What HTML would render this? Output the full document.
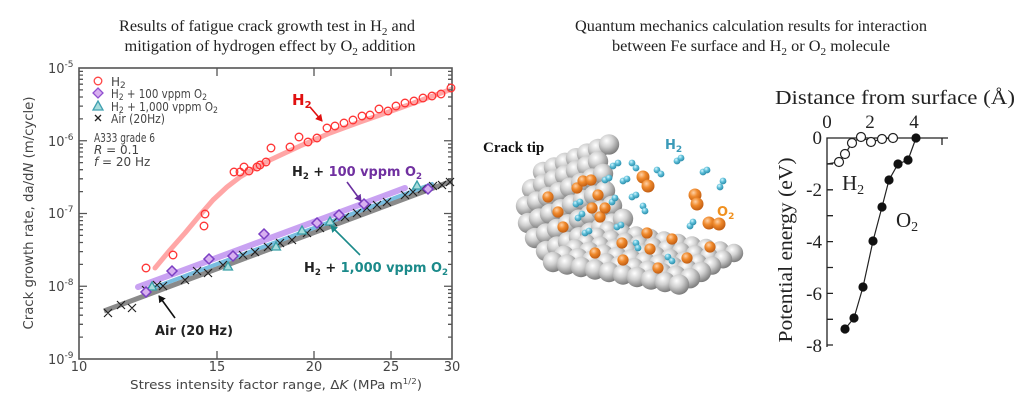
<!DOCTYPE html>
<html><head><meta charset="utf-8"><style>
html,body{margin:0;padding:0;background:#fff;}
svg{display:block;}
</style></head><body>
<svg width="1024" height="403" viewBox="0 0 1024 403" xmlns="http://www.w3.org/2000/svg">
<defs>
<radialGradient id="gg" cx="38%" cy="32%" r="70%"><stop offset="0" stop-color="#ffffff"/><stop offset="0.45" stop-color="#d0d0d0"/><stop offset="1" stop-color="#7a7a7a"/></radialGradient>
<radialGradient id="og" cx="38%" cy="32%" r="70%"><stop offset="0" stop-color="#ffd2a8"/><stop offset="0.45" stop-color="#f08a2c"/><stop offset="1" stop-color="#c05c12"/></radialGradient>
<radialGradient id="bg" cx="38%" cy="32%" r="70%"><stop offset="0" stop-color="#d8f6ff"/><stop offset="0.45" stop-color="#5ec0da"/><stop offset="1" stop-color="#2a8aa8"/></radialGradient>
<circle id="s" r="10.2" fill="url(#gg)"/>
<circle id="sf" r="9.2" fill="url(#gg)"/>
<circle id="o" r="6.5" fill="url(#og)"/>
<circle id="os" r="5.6" fill="url(#og)"/>
<circle id="b" r="3.4" fill="url(#bg)"/>
<marker id="ar" markerWidth="8" markerHeight="8" refX="6" refY="4" orient="auto" markerUnits="userSpaceOnUse"><path d="M0,0 L7,4 L0,8 Z" fill="#e01010"/></marker>
<marker id="ap" markerWidth="8" markerHeight="8" refX="6" refY="4" orient="auto" markerUnits="userSpaceOnUse"><path d="M0,0 L7,4 L0,8 Z" fill="#6a2fa0"/></marker>
<marker id="at" markerWidth="8" markerHeight="8" refX="6" refY="4" orient="auto" markerUnits="userSpaceOnUse"><path d="M0,0 L7,4 L0,8 Z" fill="#1b8a8a"/></marker>
<marker id="ak" markerWidth="8" markerHeight="8" refX="6" refY="4" orient="auto" markerUnits="userSpaceOnUse"><path d="M0,0 L7,4 L0,8 Z" fill="#111"/></marker>
</defs>

<!-- ===== LEFT CHART ===== -->
<g font-family="'Liberation Serif', serif" font-size="16" fill="#222" text-anchor="middle">
<text x="267" y="31" textLength="296" lengthAdjust="spacingAndGlyphs">Results of fatigue crack growth test in H<tspan font-size="11" dy="4">2</tspan><tspan dy="-4"> and</tspan></text>
<text x="270" y="51" textLength="291" lengthAdjust="spacingAndGlyphs">mitigation of hydrogen effect by O<tspan font-size="11" dy="4">2</tspan><tspan dy="-4"> addition</tspan></text>
</g>

<!-- bands -->
<polyline points="155,268 170,250 185,233 200,215 213,200 227,187 240,177 255,168 270,160 300,146 330,133 360,122 400,108 452,89" fill="none" stroke="#f88" stroke-opacity="0.75" stroke-width="5" stroke-linecap="round" stroke-linejoin="round"/>
<line x1="138" y1="287" x2="405" y2="188" stroke="#c9a2f2" stroke-width="6" stroke-linecap="round"/>
<line x1="104" y1="311" x2="452" y2="181" stroke="#8a8a8a" stroke-width="5"/>
<line x1="150" y1="289" x2="432" y2="184" stroke="#78bde0" stroke-width="4" stroke-linecap="round"/>

<!-- frame -->
<rect x="79" y="68" width="373" height="291" fill="none" stroke="#555" stroke-width="1.6"/>
<path stroke="#555" stroke-width="1.3" fill="none" d="
M79,286.25h8 M79,213.5h8 M79,140.75h8
M452,286.25h-8 M452,213.5h-8 M452,140.75h-8
M79,337.1h4 M79,324.3h4 M79,315.2h4 M79,308.1h4 M79,302.4h4 M79,297.5h4 M79,293.3h4 M79,289.6h4
M79,264.4h4 M79,251.6h4 M79,242.5h4 M79,235.4h4 M79,229.7h4 M79,224.8h4 M79,220.6h4 M79,216.9h4
M79,191.6h4 M79,178.8h4 M79,169.7h4 M79,162.6h4 M79,156.9h4 M79,152h4 M79,147.8h4 M79,144.1h4
M79,118.9h4 M79,106.1h4 M79,97h4 M79,89.9h4 M79,84.2h4 M79,79.3h4 M79,75.1h4 M79,71.4h4
M452,337.1h-4 M452,324.3h-4 M452,315.2h-4 M452,308.1h-4 M452,302.4h-4 M452,297.5h-4 M452,293.3h-4 M452,289.6h-4
M452,264.4h-4 M452,251.6h-4 M452,242.5h-4 M452,235.4h-4 M452,229.7h-4 M452,224.8h-4 M452,220.6h-4 M452,216.9h-4
M452,191.6h-4 M452,178.8h-4 M452,169.7h-4 M452,162.6h-4 M452,156.9h-4 M452,152h-4 M452,147.8h-4 M452,144.1h-4
M452,118.9h-4 M452,106.1h-4 M452,97h-4 M452,89.9h-4 M452,84.2h-4 M452,79.3h-4 M452,75.1h-4 M452,71.4h-4
M217,359v-8 M314,359v-8 M391,359v-8 M217,68v8 M314,68v8 M391,68v8"/>

<!-- tick labels -->
<g font-family="'DejaVu Sans', sans-serif" font-size="13" fill="#444">
<g text-anchor="middle">
<text x="79" y="371">10</text><text x="217" y="371">15</text><text x="314" y="371">20</text><text x="391" y="371">25</text><text x="452" y="371">30</text>
</g>
<text x="48" y="73">10<tspan font-size="9" dy="-6">-5</tspan></text>
<text x="48" y="146">10<tspan font-size="9" dy="-6">-6</tspan></text>
<text x="48" y="218">10<tspan font-size="9" dy="-6">-7</tspan></text>
<text x="48" y="291">10<tspan font-size="9" dy="-6">-8</tspan></text>
<text x="48" y="364">10<tspan font-size="9" dy="-6">-9</tspan></text>
<text x="276" y="389" text-anchor="middle" font-size="12.5" textLength="292" lengthAdjust="spacingAndGlyphs">Stress intensity factor range, Δ<tspan font-style="italic">K</tspan> (MPa m<tspan font-size="8" dy="-5">1/2</tspan><tspan dy="5">)</tspan></text>
<text transform="translate(33,213) rotate(-90)" text-anchor="middle" font-size="13" textLength="233" lengthAdjust="spacingAndGlyphs">Crack growth rate, da/d<tspan font-style="italic">N</tspan> (m/cycle)</text>
</g>

<!-- legend -->
<g font-family="'DejaVu Sans', sans-serif" font-size="12" fill="#444">
<circle cx="98" cy="81" r="3.8" fill="none" stroke="#f44" stroke-width="1.3"/>
<path d="M98,88 L103,93 L98,98 L93,93 Z" fill="#d8b0f0" stroke="#9050d0" stroke-width="1.3"/>
<path d="M98,101 L103,110 L93,110 Z" fill="#a8dcdc" stroke="#40a0b0" stroke-width="1.3"/>
<path d="M95,115 L101,121 M101,115 L95,121" stroke="#222" stroke-width="1.3"/>
<text x="111" y="86">H<tspan font-size="9" dy="2">2</tspan></text>
<text x="111" y="98" textLength="96" lengthAdjust="spacingAndGlyphs">H<tspan font-size="9" dy="2">2</tspan><tspan dy="-2"> + 100 vppm O</tspan><tspan font-size="9" dy="2">2</tspan></text>
<text x="111" y="111" textLength="107" lengthAdjust="spacingAndGlyphs">H<tspan font-size="9" dy="2">2</tspan><tspan dy="-2"> + 1,000 vppm O</tspan><tspan font-size="9" dy="2">2</tspan></text>
<text x="111" y="123" textLength="54" lengthAdjust="spacingAndGlyphs">Air (20Hz)</text>
<text x="94" y="142" textLength="61" lengthAdjust="spacingAndGlyphs">A333 grade 6</text>
<text x="94" y="154"><tspan font-style="italic">R</tspan> = 0.1</text>
<text x="94" y="166"><tspan font-style="italic">f</tspan> = 20 Hz</text>
</g>

<!-- air x markers -->
<path stroke="#222" stroke-width="1.2" fill="none" d="
M104,309l8,8m0,-8l-8,8 M117,301l8,8m0,-8l-8,8 M128,304l8,8m0,-8l-8,8 M142,286l8,8m0,-8l-8,8
M153,281l8,8m0,-8l-8,8 M159,282l8,8m0,-8l-8,8 M181,276l8,8m0,-8l-8,8 M193,267l8,8m0,-8l-8,8
M204,269l8,8m0,-8l-8,8 M219,261l8,8m0,-8l-8,8 M239,251l8,8m0,-8l-8,8 M251,248l8,8m0,-8l-8,8
M264,243l8,8m0,-8l-8,8 M276,239l8,8m0,-8l-8,8 M288,236l8,8m0,-8l-8,8 M303,229l8,8m0,-8l-8,8
M316,224l8,8m0,-8l-8,8 M329,218l8,8m0,-8l-8,8 M341,213l8,8m0,-8l-8,8 M353,209l8,8m0,-8l-8,8
M363,204l8,8m0,-8l-8,8 M373,201l8,8m0,-8l-8,8 M383,198l8,8m0,-8l-8,8 M401,191l8,8m0,-8l-8,8
M409,188l8,8m0,-8l-8,8 M418,185l8,8m0,-8l-8,8 M429,182l8,8m0,-8l-8,8 M438,181l8,8m0,-8l-8,8
M446,178l8,8m0,-8l-8,8"/>

<!-- triangles -->
<g fill="#a8dcdc" stroke="#3aa0a8" stroke-width="1.3">
<path d="M152,282 l4.5,8 h-9 Z"/><path d="M228,262 l4.5,8 h-9 Z"/><path d="M276,242 l4.5,8 h-9 Z"/>
<path d="M302,226 l4.5,8 h-9 Z"/><path d="M330,217 l4.5,8 h-9 Z"/><path d="M417,181 l4.5,8 h-9 Z"/>
</g>

<!-- diamonds -->
<g fill="#d8b0f0" stroke="#7b3fc4" stroke-width="1.5">
<path d="M146,287 l5,5 l-5,5 l-5,-5 Z"/><path d="M172,266 l5,5 l-5,5 l-5,-5 Z"/><path d="M209,254 l5,5 l-5,5 l-5,-5 Z"/>
<path d="M233,251 l5,5 l-5,5 l-5,-5 Z"/><path d="M264,229 l5,5 l-5,5 l-5,-5 Z"/><path d="M317,218 l5,5 l-5,5 l-5,-5 Z"/>
<path d="M339,210 l5,5 l-5,5 l-5,-5 Z"/><path d="M364,199 l5,5 l-5,5 l-5,-5 Z"/><path d="M428,184 l5,5 l-5,5 l-5,-5 Z"/>
</g>

<!-- H2 circles -->
<g fill="none" stroke="#f33" stroke-width="1.3">
<circle cx="146" cy="268" r="3.8"/><circle cx="173" cy="255" r="3.8"/><circle cx="204" cy="226" r="3.8"/><circle cx="205" cy="214" r="3.8"/>
<circle cx="234" cy="172" r="3.8"/><circle cx="240" cy="172" r="3.8"/><circle cx="244" cy="167" r="3.8"/><circle cx="249" cy="171" r="3.8"/>
<circle cx="257" cy="167" r="3.8"/><circle cx="260" cy="165" r="3.8"/><circle cx="266" cy="162" r="3.8"/><circle cx="271" cy="148" r="3.8"/>
<circle cx="290" cy="147" r="3.8"/><circle cx="299" cy="137" r="3.8"/><circle cx="308" cy="142" r="3.8"/><circle cx="317" cy="138" r="3.8"/>
<circle cx="327" cy="128" r="3.8"/><circle cx="335" cy="126" r="3.8"/><circle cx="344" cy="123" r="3.8"/><circle cx="353" cy="120" r="3.8"/>
<circle cx="362" cy="116" r="3.8"/><circle cx="370" cy="115" r="3.8"/><circle cx="379" cy="109" r="3.8"/><circle cx="388" cy="111" r="3.8"/>
<circle cx="396" cy="106" r="3.8"/><circle cx="405" cy="103" r="3.8"/><circle cx="414" cy="101" r="3.8"/><circle cx="423" cy="98" r="3.8"/>
<circle cx="432" cy="96" r="3.8"/><circle cx="441" cy="94" r="3.8"/><circle cx="451" cy="88" r="3.8"/>
</g>

<!-- annotations -->
<g font-family="'DejaVu Sans', sans-serif" font-weight="bold">
<text x="292" y="105" font-size="15" fill="#e01010">H<tspan font-size="10" dy="3">2</tspan></text>
<line x1="310" y1="107" x2="322" y2="121" stroke="#e01010" stroke-width="1.6" marker-end="url(#ar)"/>
<text x="292" y="176" font-size="13.5" fill="#222" textLength="130" lengthAdjust="spacingAndGlyphs">H<tspan font-size="9" dy="3">2</tspan><tspan dy="-3"> + </tspan><tspan fill="#7030a0">100 vppm O</tspan><tspan fill="#7030a0" font-size="9" dy="3">2</tspan></text>
<line x1="347" y1="182" x2="361" y2="201" stroke="#6a2fa0" stroke-width="1.6" marker-end="url(#ap)"/>
<text x="304" y="272" font-size="13.5" fill="#222" textLength="144" lengthAdjust="spacingAndGlyphs">H<tspan font-size="9" dy="3">2</tspan><tspan dy="-3"> + </tspan><tspan fill="#1b8a8a">1,000 vppm O</tspan><tspan fill="#1b8a8a" font-size="9" dy="3">2</tspan></text>
<line x1="360" y1="255" x2="331" y2="226" stroke="#1b8a8a" stroke-width="1.6" marker-end="url(#at)"/>
<text x="155" y="335" font-size="13.5" fill="#222" textLength="78" lengthAdjust="spacingAndGlyphs">Air (20 Hz)</text>
<line x1="175" y1="318" x2="159" y2="296" stroke="#111" stroke-width="1.6" marker-end="url(#ak)"/>
</g>

<!-- ===== MIDDLE ILLUSTRATION ===== -->
<g>
<!-- wall -->
<use href="#s" x="543" y="172"/><use href="#s" x="554" y="167.4"/><use href="#s" x="565" y="162.8"/><use href="#s" x="576" y="158.2"/><use href="#s" x="587" y="153.6"/><use href="#s" x="598" y="149"/><use href="#s" x="609" y="144.4"/>
<use href="#s" x="532" y="189"/><use href="#s" x="543" y="184.4"/><use href="#s" x="554" y="179.8"/><use href="#s" x="565" y="175.2"/><use href="#s" x="576" y="170.6"/><use href="#s" x="587" y="166"/><use href="#s" x="598" y="161.4"/>
<use href="#s" x="526" y="206"/><use href="#s" x="537" y="201.4"/><use href="#s" x="548" y="196.8"/><use href="#s" x="559" y="192.2"/><use href="#s" x="570" y="187.6"/><use href="#s" x="581" y="183"/><use href="#s" x="592" y="178.4"/><use href="#s" x="603" y="173.8"/>
<use href="#s" x="528" y="223"/><use href="#s" x="539" y="218.4"/><use href="#s" x="550" y="213.8"/><use href="#s" x="561" y="209.2"/><use href="#s" x="572" y="204.6"/><use href="#s" x="583" y="200"/><use href="#s" x="594" y="195.4"/><use href="#s" x="605" y="190.8"/>
<use href="#s" x="535" y="238"/><use href="#s" x="546" y="233.4"/><use href="#s" x="557" y="228.8"/><use href="#s" x="568" y="224.2"/><use href="#s" x="579" y="219.6"/><use href="#s" x="590" y="215"/><use href="#s" x="601" y="210.4"/><use href="#s" x="612" y="205.8"/>
<use href="#s" x="546" y="251"/><use href="#s" x="557" y="246.4"/><use href="#s" x="568" y="241.8"/><use href="#s" x="579" y="237.2"/><use href="#s" x="590" y="232.6"/><use href="#s" x="601" y="228"/><use href="#s" x="612" y="223.4"/><use href="#s" x="623" y="218.8"/>
<!-- wall orange -->
<use href="#os" x="548" y="197"/><use href="#os" x="558" y="212"/><use href="#os" x="563" y="227"/><use href="#os" x="577" y="188"/><use href="#os" x="583" y="181"/><use href="#os" x="591" y="180"/><use href="#os" x="598" y="195"/><use href="#os" x="592" y="208"/><use href="#os" x="600" y="217"/><use href="#os" x="605" y="208"/>
<!-- floor r=5..0 -->
<use href="#sf" x="608" y="230.5"/><use href="#sf" x="622" y="233"/><use href="#sf" x="636" y="235.5"/><use href="#sf" x="650" y="238"/><use href="#sf" x="664" y="240.5"/><use href="#sf" x="678" y="243"/><use href="#sf" x="692" y="245.5"/><use href="#sf" x="706" y="248"/><use href="#sf" x="720" y="250.5"/><use href="#sf" x="734" y="253"/>
<use href="#sf" x="597" y="236.8"/><use href="#sf" x="611" y="239.3"/><use href="#sf" x="625" y="241.8"/><use href="#sf" x="639" y="244.3"/><use href="#sf" x="653" y="246.8"/><use href="#sf" x="667" y="249.3"/><use href="#sf" x="681" y="251.8"/><use href="#sf" x="695" y="254.3"/><use href="#sf" x="709" y="256.8"/><use href="#sf" x="723" y="259.3"/>
<use href="#sf" x="586" y="243.1"/><use href="#sf" x="600" y="245.6"/><use href="#sf" x="614" y="248.1"/><use href="#sf" x="628" y="250.6"/><use href="#sf" x="642" y="253.1"/><use href="#sf" x="656" y="255.6"/><use href="#sf" x="670" y="258.1"/><use href="#sf" x="684" y="260.6"/><use href="#sf" x="698" y="263.1"/><use href="#sf" x="712" y="265.6"/>
<use href="#s" x="575" y="249.4"/><use href="#s" x="589" y="251.9"/><use href="#s" x="603" y="254.4"/><use href="#s" x="617" y="256.9"/><use href="#s" x="631" y="259.4"/><use href="#s" x="645" y="261.9"/><use href="#s" x="659" y="264.4"/><use href="#s" x="673" y="266.9"/><use href="#s" x="687" y="269.4"/><use href="#s" x="701" y="271.9"/>
<use href="#s" x="564" y="255.7"/><use href="#s" x="578" y="258.2"/><use href="#s" x="592" y="260.7"/><use href="#s" x="606" y="263.2"/><use href="#s" x="620" y="265.7"/><use href="#s" x="634" y="268.2"/><use href="#s" x="648" y="270.7"/><use href="#s" x="662" y="273.2"/><use href="#s" x="676" y="275.7"/><use href="#s" x="690" y="278.2"/>
<use href="#s" x="553" y="262"/><use href="#s" x="567" y="264.5"/><use href="#s" x="581" y="267"/><use href="#s" x="595" y="269.5"/><use href="#s" x="609" y="272"/><use href="#s" x="623" y="274.5"/><use href="#s" x="637" y="277"/><use href="#s" x="651" y="279.5"/><use href="#s" x="665" y="282"/><use href="#s" x="679" y="284.5"/>
<!-- floor orange -->
<use href="#os" x="647" y="233"/><use href="#os" x="672" y="239"/><use href="#os" x="650" y="249"/><use href="#os" x="687" y="258"/><use href="#os" x="710" y="247"/><use href="#os" x="658" y="268"/><use href="#os" x="623" y="260"/><use href="#os" x="595" y="253"/><use href="#os" x="622" y="243"/>
<!-- O2 molecules -->
<use href="#o" x="643" y="177"/><use href="#o" x="648" y="186"/>
<use href="#o" x="695" y="195"/><use href="#o" x="697" y="204"/>
<use href="#o" x="709" y="223"/><use href="#o" x="719" y="224"/>
<!-- H2 molecules -->
<use href="#b" x="613" y="166"/><use href="#b" x="618" y="163"/>
<use href="#b" x="632" y="163"/><use href="#b" x="636" y="168"/>
<use href="#b" x="623" y="181"/><use href="#b" x="627" y="179"/>
<use href="#b" x="657" y="170"/><use href="#b" x="661" y="174"/>
<use href="#b" x="677" y="161"/><use href="#b" x="681" y="158"/>
<use href="#b" x="703" y="172"/><use href="#b" x="707" y="170"/>
<use href="#b" x="723" y="181"/><use href="#b" x="720" y="187"/>
<use href="#b" x="632" y="197"/><use href="#b" x="636" y="195"/>
<use href="#b" x="643" y="206"/><use href="#b" x="645" y="211"/>
<use href="#b" x="690" y="226"/><use href="#b" x="693" y="222"/>
<use href="#b" x="576" y="204"/><use href="#b" x="580" y="202"/>
<use href="#b" x="578" y="218"/><use href="#b" x="582" y="214"/>
<use href="#b" x="585" y="233"/><use href="#b" x="589" y="231"/>
<use href="#b" x="617" y="227"/><use href="#b" x="621" y="225"/>
<use href="#b" x="636" y="243"/><use href="#b" x="638" y="248"/>
<use href="#b" x="668" y="257"/><use href="#b" x="672" y="261"/>
<use href="#b" x="605" y="180"/><use href="#b" x="609" y="178"/>
<use href="#b" x="612" y="202"/><use href="#b" x="615" y="198"/>
</g>
<text x="483" y="152" font-family="'Liberation Serif', serif" font-weight="bold" font-size="15" fill="#111">Crack tip</text>
<text x="665" y="149" font-family="'DejaVu Sans', sans-serif" font-weight="bold" font-size="13" fill="#3a9ab8">H<tspan font-size="9" dy="3">2</tspan></text>
<text x="717" y="216" font-family="'DejaVu Sans', sans-serif" font-weight="bold" font-size="13" fill="#f0901e">O<tspan font-size="9" dy="3">2</tspan></text>

<!-- ===== RIGHT CHART ===== -->
<g font-family="'Liberation Serif', serif" font-size="16" fill="#222" text-anchor="middle">
<text x="751" y="31" textLength="352" lengthAdjust="spacingAndGlyphs">Quantum mechanics calculation results for interaction</text>
<text x="751" y="51" textLength="278" lengthAdjust="spacingAndGlyphs">between Fe surface and H<tspan font-size="11" dy="4">2</tspan><tspan dy="-4"> or O</tspan><tspan font-size="11" dy="4">2</tspan><tspan dy="-4"> molecule</tspan></text>
</g>
<g font-family="'Liberation Serif', serif" fill="#222">
<text x="895" y="104" font-size="20" text-anchor="middle" textLength="240" lengthAdjust="spacingAndGlyphs">Distance from surface (Å)</text>
<g font-size="19" text-anchor="middle">
<text x="827" y="128">0</text><text x="870" y="128">2</text><text x="914" y="128">4</text>
</g>
<g font-size="19" text-anchor="end">
<text x="822" y="144">0</text><text x="822" y="196">-2</text><text x="822" y="248">-4</text><text x="822" y="300">-6</text><text x="822" y="352">-8</text>
</g>
<text transform="translate(792,250) rotate(-90)" font-size="20" text-anchor="middle" textLength="185" lengthAdjust="spacingAndGlyphs">Potential energy (eV)</text>
<text x="842" y="190" font-size="21">H<tspan font-size="14" dy="4">2</tspan></text>
<text x="896" y="227" font-size="21">O<tspan font-size="14" dy="4">2</tspan></text>
</g>
<path stroke="#222" stroke-width="1.3" fill="none" d="M827,347 V138 H948 M942,138v7
M827,164h6 M827,189.8h6 M827,215.7h6 M827,241.6h6 M827,267.5h6 M827,293.4h6 M827,319.3h6 M827,345h6"/>
<polyline points="827,164 839,162 845,154 852,143 861,137 871,142 882,139 893,138" fill="none" stroke="#222" stroke-width="1.2"/>
<polyline points="845,329 854,318 863,287 873,241 882,207 889,180 898,164 908,160 916,138" fill="none" stroke="#222" stroke-width="1.2"/>
<g fill="#fff" stroke="#222" stroke-width="1.2">
<circle cx="839" cy="162" r="4.5"/><circle cx="845" cy="154" r="4.5"/><circle cx="852" cy="143" r="4.5"/><circle cx="861" cy="137" r="4.5"/><circle cx="871" cy="142" r="4.5"/><circle cx="882" cy="139" r="4.5"/><circle cx="893" cy="138" r="4.5"/>
</g>
<g fill="#111">
<circle cx="845" cy="329" r="4.6"/><circle cx="854" cy="318" r="4.6"/><circle cx="863" cy="287" r="4.6"/><circle cx="873" cy="241" r="4.6"/><circle cx="882" cy="207" r="4.6"/><circle cx="889" cy="180" r="4.6"/><circle cx="898" cy="164" r="4.6"/><circle cx="908" cy="160" r="4.6"/><circle cx="916" cy="138" r="4.6"/>
</g>
</svg>
</body></html>
